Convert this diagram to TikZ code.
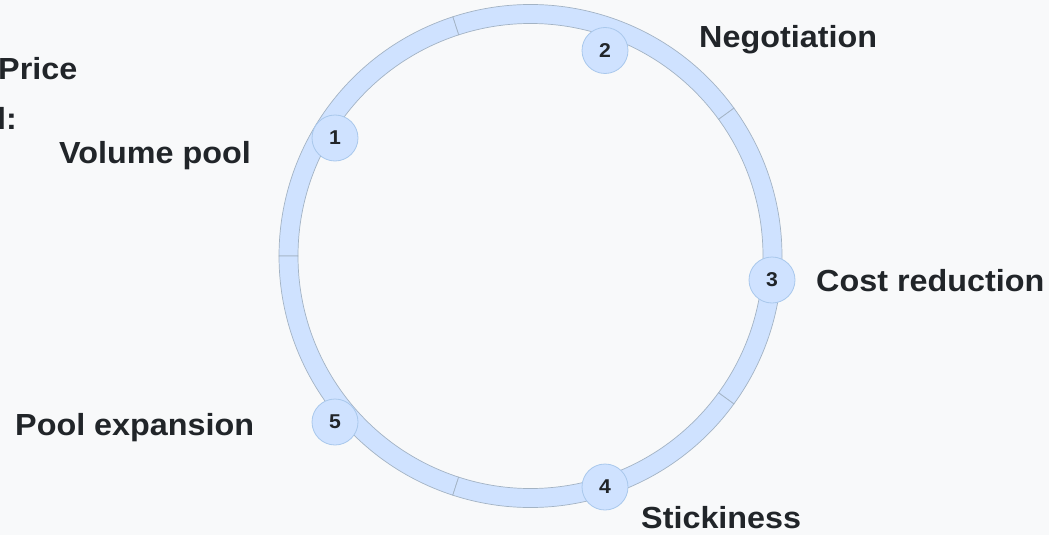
\documentclass[tikz,border=0pt]{standalone}
\usepackage{fontspec}
\setmainfont{Liberation Sans}[FakeStretch=1.06]
\definecolor{bg}{HTML}{F8F9FA}
\definecolor{ringfill}{HTML}{CFE2FF}
\definecolor{ringline}{HTML}{A3B3C4}
\definecolor{dotline}{HTML}{A9C8EC}
\definecolor{ink}{HTML}{212529}
\tikzset{
  seg/.style={fill=ringfill, draw=ringline, line width=0.7pt},
  numdot/.style={circle, fill=ringfill, draw=dotline, line width=0.8pt, minimum size=46pt, inner sep=0pt, font=\fontsize{20}{20}\selectfont\bfseries, text=ink},
  lbl/.style={anchor=base west, inner sep=0pt, font=\fontsize{30.5}{30.5}\selectfont\bfseries, text=ink}
}
\begin{document}
\begin{tikzpicture}[x=1pt,y=1pt]
\fill[bg] (0,0) rectangle (1049,-535);
\useasboundingbox (0,0) rectangle (1049,-535);
\begin{scope}[shift={(530.5,-256)}]
\foreach \a in {36,108,180,252,324} {
  \draw[seg] (\a:251.5) arc[start angle=\a, delta angle=72, radius=251.5] -- (\a+72:232.5) arc[start angle=\a+72, delta angle=-72, radius=232.5] -- cycle;
}
\end{scope}
\node[numdot] (n1) at (335,-138) {1};
\node[numdot] (n2) at (605,-50.5) {2};
\node[numdot] (n3) at (772,-280) {3};
\node[numdot] (n4) at (605,-487) {4};
\node[numdot] (n5) at (335,-422) {5};
\node[lbl] (l1) at (59,-163) {Volume pool};
\node[lbl] (l2) at (699,-48) {Negotiation};
\node[lbl] (l3) at (816,-291) {Cost reduction};
\node[lbl] (l4) at (641,-528) {Stickiness};
\node[lbl] (l5) at (15,-435) {Pool expansion};
\node[lbl] (t1) at (-2,-79) {Price};
\node[lbl] (t2) at (-3,-129) {l:};
\end{tikzpicture}
\end{document}
